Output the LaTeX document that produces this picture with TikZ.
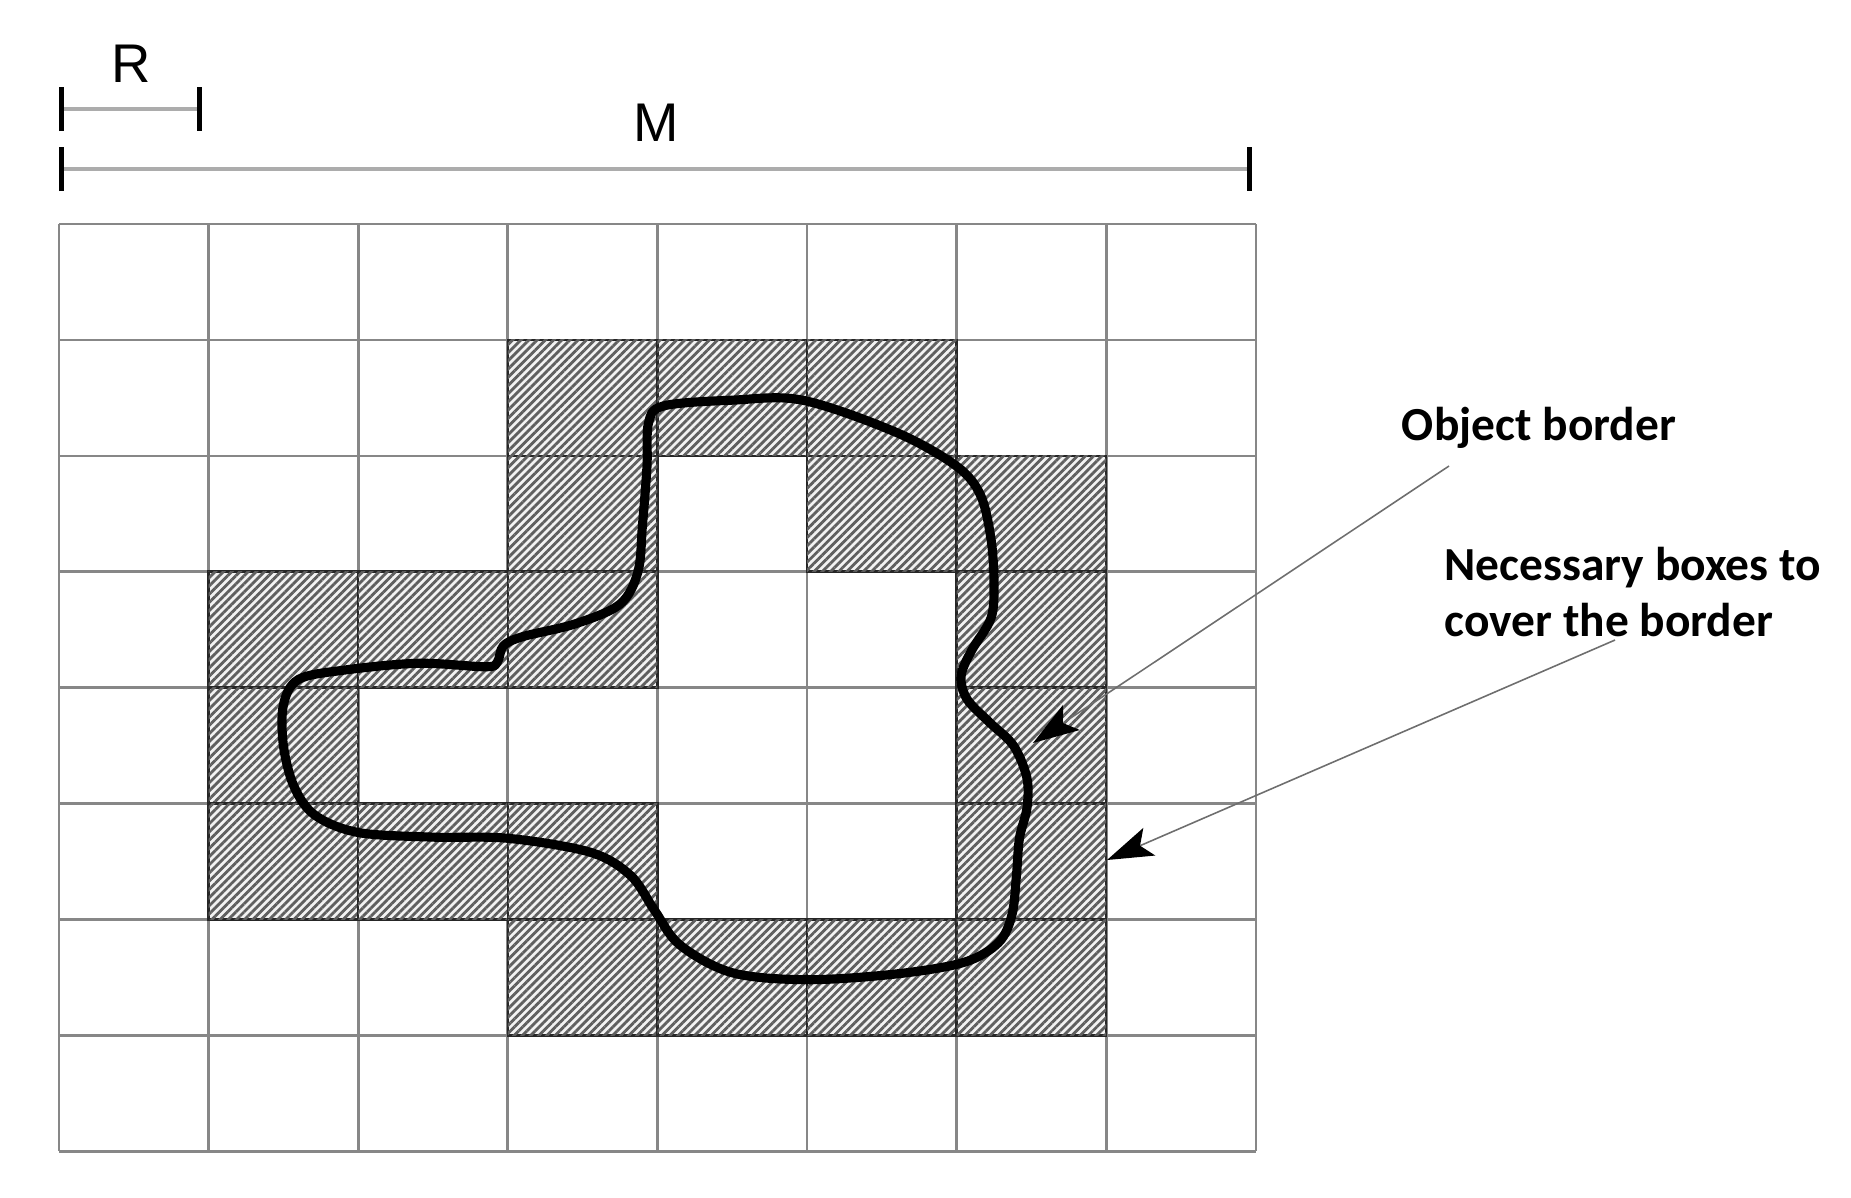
\documentclass[tikz,border=0pt]{standalone}
\usepackage{fontspec}
\setmainfont{Liberation Sans}
\newfontfamily\notefont{Carlito}
\usetikzlibrary{arrows.meta,patterns.meta}
\definecolor{gridgray}{RGB}{135,135,135}
\definecolor{hatchgray}{RGB}{95,95,95}
\definecolor{notegray}{RGB}{110,110,110}

\tikzset{
  gridline/.style={draw=gridgray, line width=0.75pt},
  coverbox/.style={draw=black!85, line width=0.7pt, fill=gray!10,
    postaction={pattern={Lines[angle=45,distance=1.65pt,line width=0.8pt]}, pattern color=hatchgray}},
  border/.style={line width=2.6pt, line join=round},
  rulerbar/.style={draw=gray!65, line width=0.9pt,
    {Bar[width=4.4mm,line width=1.3pt,color=black]}-{Bar[width=4.4mm,line width=1.3pt,color=black]}},
  note/.style={font=\notefont\bfseries\fontsize{13.5}{15.8}\selectfont, inner sep=0pt},
  pointer/.style={draw=notegray, line width=0.45pt, -{Stealth[length=4.6mm,width=3mm,inset=1mm,color=black]}}
}

\begin{document}
\begin{tikzpicture}
  \useasboundingbox (0,0) rectangle (18.51,-11.97);
  % rulers
  \coordinate (r-left) at (0.59,-1.09);
  \coordinate (r-right) at (2.02,-1.09);
  \coordinate (m-left) at (0.59,-1.69);
  \coordinate (m-right) at (12.52,-1.69);
  \draw[rulerbar] (r-left) -- (r-right);
  \draw[rulerbar] (m-left) -- (m-right);
  \node[font=\fontsize{15.5}{18}\selectfont] (r-label) at (1.31,-0.64) {R};
  \node[font=\fontsize{15.5}{18}\selectfont] (m-label) at (6.56,-1.23) {M};
  %
  % grid of boxes
  \begin{scope}[shift={(0.59,-2.24)}, x=1.496cm, y=-1.159cm]
    \foreach \i in {0,...,8} {
      \draw[gridline] (\i,0) -- (\i,8);
      \draw[gridline] (0,\i) -- (8,\i);
    }
    % boxes that touch the border
    \foreach \c/\r in {3/1,4/1,5/1, 3/2,5/2,6/2, 1/3,2/3,3/3,6/3, 1/4,6/4,
                       1/5,2/5,3/5,6/5, 3/6,4/6,5/6,6/6} {
      \path[coverbox] (\c,\r) rectangle ++(1,1);
    }
    % object border
    \draw[border] plot[smooth cycle, tension=0.55] coordinates {
      (4.04,1.57) (4.5,1.52) (4.97,1.52) (5.6,1.8) (6.0,2.09) (6.16,2.34)
      (6.23,2.72) (6.25,3.1) (6.23,3.4) (6.1,3.68) (6.03,3.9) (6.07,4.1)
      (6.22,4.3) (6.38,4.5) (6.47,4.78) (6.47,5.04) (6.42,5.3) (6.4,5.62)
      (6.37,5.96) (6.28,6.2) (6.05,6.37) (5.6,6.47) (5.0,6.52) (4.5,6.46)
      (4.15,6.22) (3.98,5.92) (3.82,5.62) (3.55,5.42) (3.0,5.3) (2.5,5.29)
      (2.0,5.25) (1.71,5.1) (1.57,4.85) (1.5,4.5) (1.5,4.15) (1.6,3.93)
      (1.9,3.85) (2.4,3.79) (2.85,3.82) (2.93,3.78) (2.97,3.64) (3.1,3.56)
      (3.45,3.45) (3.75,3.28) (3.87,3.0) (3.9,2.6) (3.93,2.1) (3.94,1.72)};
  \end{scope}
  %
  % notes
  \node[note] (obj-note) at (15.39,-4.28) {Object border};
  \node[note, align=left, anchor=west] (box-note) at (14.44,-5.92)
    {Necessary boxes to\\cover the border};
  \coordinate (obj-tail) at (14.49,-4.66);
  \coordinate (obj-tip) at (10.33,-7.43);
  \coordinate (box-tail) at (16.15,-6.40);
  \coordinate (box-tip) at (11.07,-8.60);
  \draw[pointer] (obj-tail) -- (obj-tip);
  \draw[pointer] (box-tail) -- (box-tip);
\end{tikzpicture}
\end{document}
